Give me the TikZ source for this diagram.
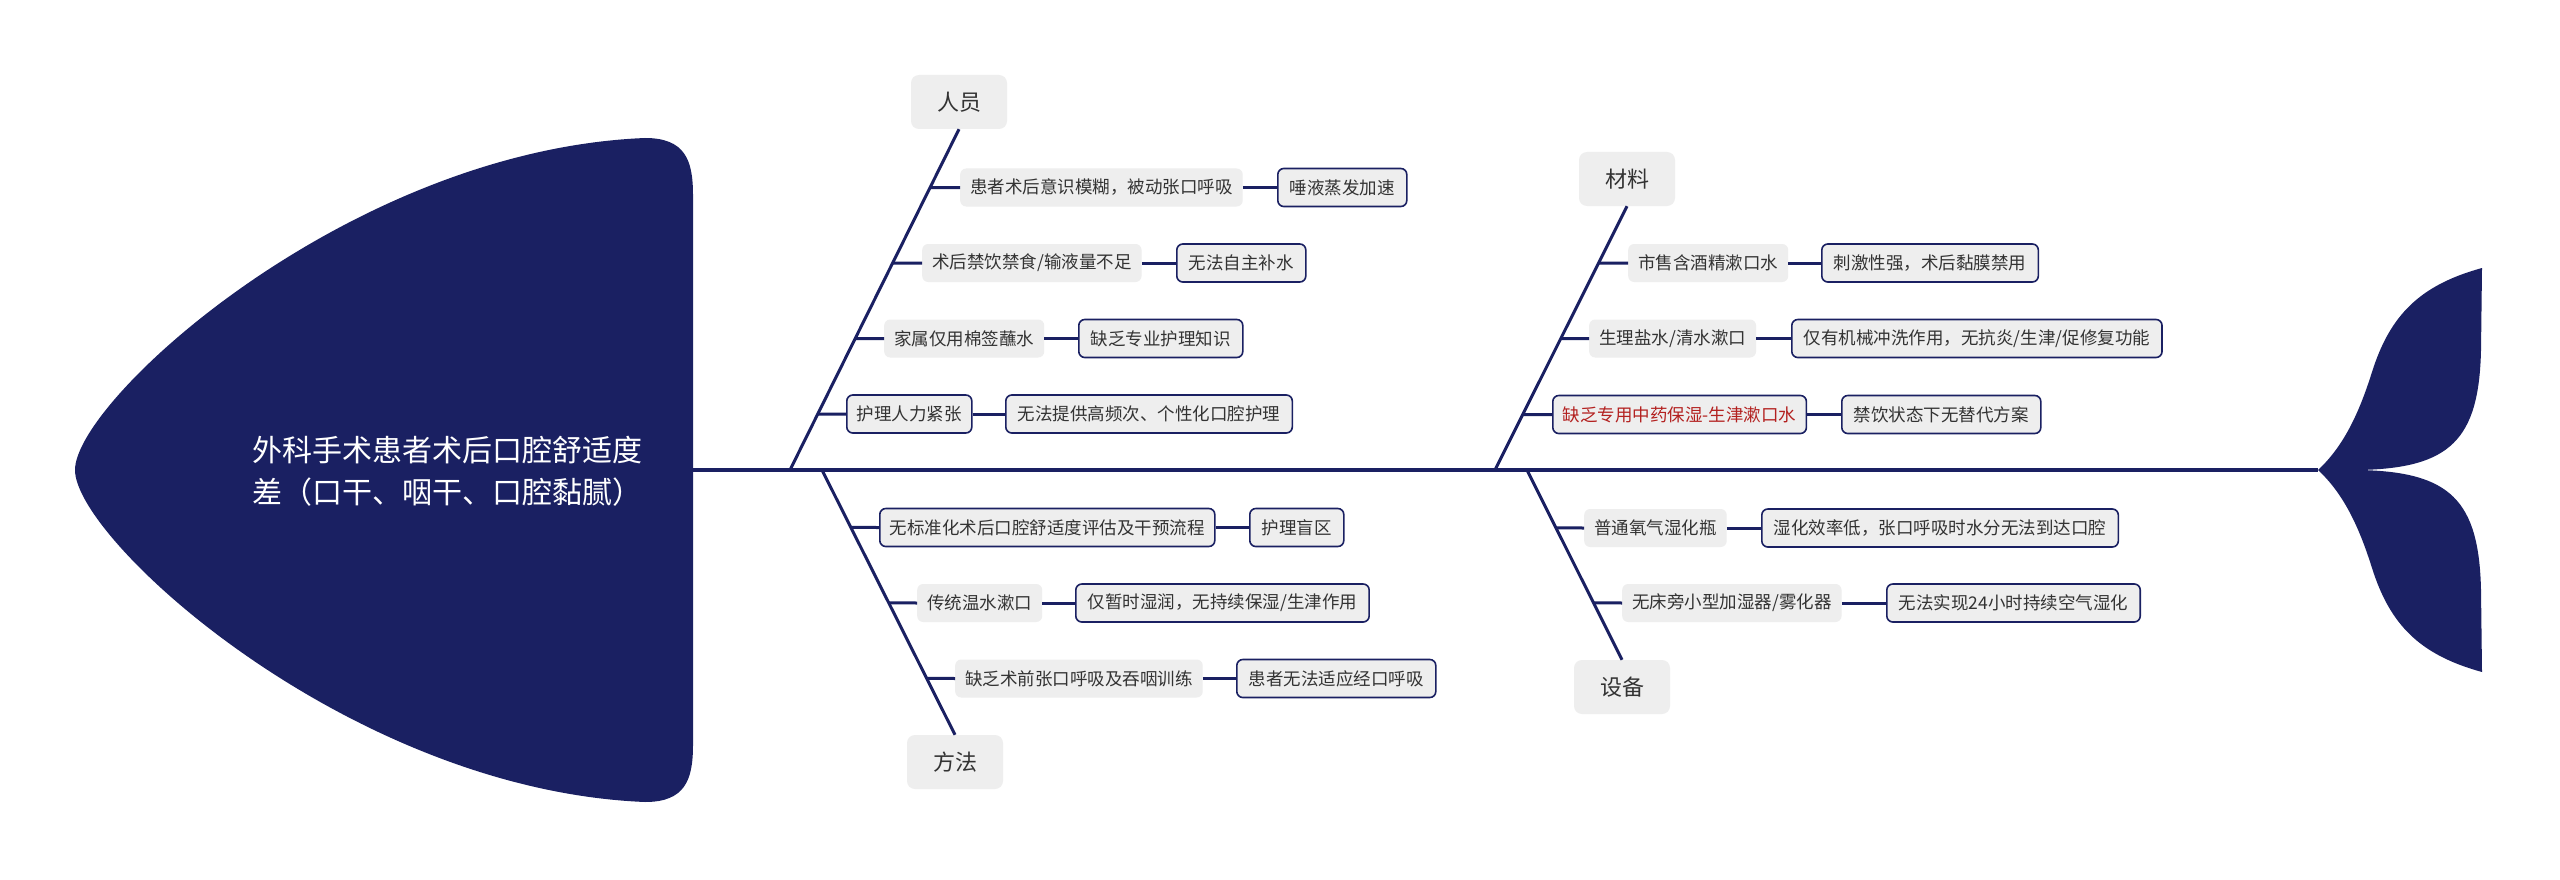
\documentclass[tikz,border=0pt]{standalone}
\usepackage{fontspec}
\setmainfont{Noto Sans CJK SC}
\usetikzlibrary{calc}
\definecolor{navy}{HTML}{1A2062}
\definecolor{boxgray}{HTML}{EEEEEE}
\definecolor{txt}{HTML}{333333}
\definecolor{redtxt}{HTML}{B3201F}
\begin{document}
\begin{tikzpicture}[x=1pt,y=-1pt,
  bone/.style={navy, line width=3pt},
  spine/.style={navy, line width=3.5pt},
  link/.style={navy, line width=3pt},
  cat/.style={fill=boxgray, rounded corners=8pt, minimum width=96pt, minimum height=54pt, inner sep=0pt, text=txt, font=\fontsize{22}{26}\selectfont},
  cause/.style={fill=boxgray, rounded corners=6pt, minimum height=38pt, inner xsep=10pt, inner ysep=0pt, text=txt, font=\fontsize{17.5}{21}\selectfont, anchor=west},
  causeb/.style={cause, draw=navy, line width=1.6pt},
  effect/.style={cause, draw=navy, line width=1.6pt, inner xsep=12pt}
]
\useasboundingbox (0,0) rectangle (2560,880);
\fill[white] (0,0) rectangle (2560,880);

% head
\fill[navy] (75,470) .. controls (75,400) and (350,150) .. (645,138)
  .. controls (685,138) and (693,160) .. (693,195) -- (693,745)
  .. controls (693,780) and (685,802) .. (645,802)
  .. controls (350,790) and (75,540) .. (75,470) -- cycle;
\node[name=title, anchor=west, align=left, text=white, inner sep=0pt,
  font=\fontsize{30}{42}\selectfont] at (252,471)
  {外科手术患者术后口腔舒适度\\差（口干、咽干、口腔黏腻）};

% spine
\coordinate (spineL) at (693,470);
\coordinate (spineR) at (2318,470);
\draw[spine] (spineL) -- (spineR);

% tail
\fill[navy] (2318,470) .. controls (2345,445) and (2360,410) .. (2372,372)
  .. controls (2390,315) and (2420,285) .. (2482,268) -- (2481,350)
  .. controls (2479,440) and (2450,468) .. (2360,470)
  .. controls (2450,472) and (2479,500) .. (2481,590) -- (2482,672)
  .. controls (2420,655) and (2390,625) .. (2372,568)
  .. controls (2360,530) and (2345,495) .. (2318,470) -- cycle;

% category boxes
\node[cat] (renyuan) at (959,102) {人员};
\node[cat] (fangfa) at (955,762) {方法};
\node[cat] (cailiao) at (1627,179) {材料};
\node[cat] (shebei) at (1622,687) {设备};

% bone start points
\coordinate (b1s) at (790,470);
\coordinate (b2s) at (822,470);
\coordinate (b3s) at (1495,470);
\coordinate (b4s) at (1527,470);
\draw[bone] (b1s) -- (renyuan.south);
\draw[bone] (b2s) -- (fangfa.north);
\draw[bone] (b3s) -- (cailiao.south);
\draw[bone] (b4s) -- (shebei.north);

% junctions
\coordinate (j11) at ($(b1s)!0.8284!(renyuan.south)$);
\coordinate (j12) at ($(b1s)!0.6070!(renyuan.south)$);
\coordinate (j13) at ($(b1s)!0.3856!(renyuan.south)$);
\coordinate (j14) at ($(b1s)!0.1642!(renyuan.south)$);
\coordinate (j21) at ($(b2s)!0.2170!(fangfa.north)$);
\coordinate (j22) at ($(b2s)!0.5019!(fangfa.north)$);
\coordinate (j23) at ($(b2s)!0.7868!(fangfa.north)$);
\coordinate (j31) at ($(b3s)!0.7841!(cailiao.south)$);
\coordinate (j32) at ($(b3s)!0.4981!(cailiao.south)$);
\coordinate (j33) at ($(b3s)!0.2102!(cailiao.south)$);
\coordinate (j41) at ($(b4s)!0.3053!(shebei.north)$);
\coordinate (j42) at ($(b4s)!0.7!(shebei.north)$);

% 人员
\node[cause] (c11) at (960,187.5) {患者术后意识模糊，被动张口呼吸};
\node[effect] (e11) at (1277,187.5) {唾液蒸发加速};
\node[cause] (c12) at (922,263) {术后禁饮禁食/输液量不足};
\node[effect] (e12) at (1176,263) {无法自主补水};
\node[cause] (c13) at (884,338.5) {家属仅用棉签蘸水};
\node[effect] (e13) at (1078,338.5) {缺乏专业护理知识};
\node[causeb] (c14) at (846,414) {护理人力紧张};
\node[effect] (e14) at (1005,414) {无法提供高频次、个性化口腔护理};

% 方法
\node[causeb] (c21) at (879,527.5) {无标准化术后口腔舒适度评估及干预流程};
\node[effect] (e21) at (1249,527.5) {护理盲区};
\node[cause] (c22) at (917,603) {传统温水漱口};
\node[effect] (e22) at (1075,603) {仅暂时湿润，无持续保湿/生津作用};
\node[cause] (c23) at (955,678.5) {缺乏术前张口呼吸及吞咽训练};
\node[effect] (e23) at (1236,678.5) {患者无法适应经口呼吸};

% 材料
\node[cause] (c31) at (1628,263) {市售含酒精漱口水};
\node[effect] (e31) at (1821,263) {刺激性强，术后黏膜禁用};
\node[cause] (c32) at (1589,338.5) {生理盐水/清水漱口};
\node[effect] (e32) at (1791,338.5) {仅有机械冲洗作用，无抗炎/生津/促修复功能};
\node[causeb, text=redtxt] (c33) at (1552,414.5) {缺乏专用中药保湿-生津漱口水};
\node[effect] (e33) at (1841,414.5) {禁饮状态下无替代方案};

% 设备
\node[cause] (c41) at (1584,528) {普通氧气湿化瓶};
\node[effect] (e41) at (1761,528) {湿化效率低，张口呼吸时水分无法到达口腔};
\node[cause] (c42) at (1622,603) {无床旁小型加湿器/雾化器};
\node[effect] (e42) at (1886,603) {无法实现24小时持续空气湿化};

% links
\foreach \k in {11,12,13,14,21,22,23,31,32,33,41,42}{
  \draw[link] (j\k) -- (c\k.west);
  \draw[link] (c\k.east) -- (e\k.west);
}
\end{tikzpicture}
\end{document}
